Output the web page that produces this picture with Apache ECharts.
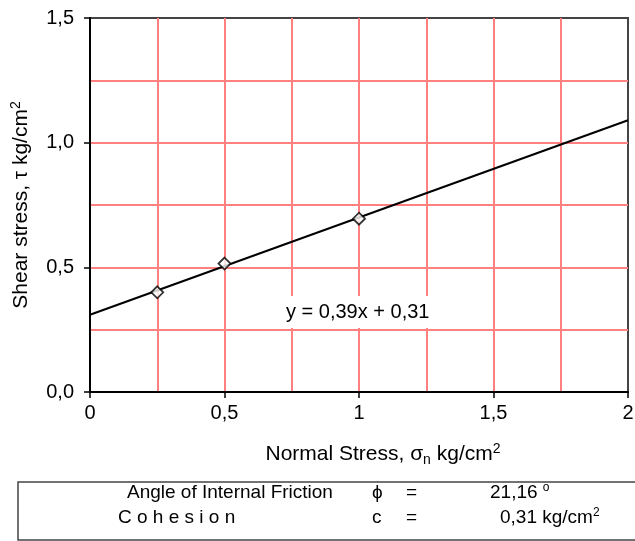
<!DOCTYPE html>
<html>
<head>
<meta charset="utf-8">
<script src="https://cdn.jsdelivr.net/npm/echarts@6/dist/echarts.min.js"></script>
<style>
  html, body { margin: 0; padding: 0; background: #fff; }
  #chart { width: 635px; height: 541px; }
</style>
</head>
<body>
<div id="chart"></div>
<script>
// measured points (normal stress, shear stress)
const stressX = [0.25, 0.5, 1.0];
const stressY = [0.40, 0.515, 0.695];
// linear trend line, end points
const trendX = [0, 2];
const trendY = [0.31, 1.09];
const equationText = 'y = 0,39x + 0,31';
// summary table rows
const tableLabels = ['Angle of Internal Friction', 'C o h e s i o n'];
const tableSymbols = ['\u03d5', 'c'];
const tableValues = ['{n|21,16 }{sup|o}', '{n|0,31 kg/cm}{sup|2}'];

const fontFam = '"Liberation Sans", Arial, sans-serif';
const gridPink = '#FF8080';
const fmt = v => String(v).replace('.', ',');

const chart = echarts.init(document.getElementById('chart'), null, { renderer: 'canvas' });

const rich = {
  n: { fontSize: 21, fontFamily: fontFam, color: '#000', lineHeight: 25 },
  sup: { fontSize: 14, fontFamily: fontFam, color: '#000', verticalAlign: 'top', lineHeight: 25 },
  sub: { fontSize: 14, fontFamily: fontFam, color: '#000', verticalAlign: 'bottom', lineHeight: 25 }
};
const tableRich = {
  n: { fontSize: 19, fontFamily: fontFam, color: '#000', lineHeight: 22 },
  sup: { fontSize: 12, fontFamily: fontFam, color: '#000', verticalAlign: 'top', lineHeight: 22 }
};

const rowY = [493, 518];
const tableGraphics = [];
tableLabels.forEach((lab, i) => {
  const txt = (x, s, r) => ({
    type: 'text', x: x, y: rowY[i],
    style: { text: s, font: '19px ' + fontFam, fill: '#000', verticalAlign: 'middle', align: 'left', rich: r }
  });
  tableGraphics.push(
    txt(i ? 118 : 127, lab),
    txt(372, tableSymbols[i]),
    txt(406, '='),
    txt(i ? 500 : 490, tableValues[i], tableRich)
  );
});

const pinkLines = { show: true, showMinLine: false, showMaxLine: false, lineStyle: { color: gridPink, width: 2 } };

chart.setOption({
  animation: false,
  grid: {
    left: 90, right: 7, top: 18, bottom: 149, containLabel: false, outerBoundsMode: 'none',
    show: true, borderColor: '#444', borderWidth: 2
  },
  xAxis: {
    type: 'value', min: 0, max: 2, interval: 0.5,
    axisLine: { show: true, onZero: false, lineStyle: { color: '#000', width: 2 } },
    axisTick: { show: true, length: 6, lineStyle: { color: '#000', width: 1.5 } },
    axisLabel: { margin: 11, fontSize: 20, fontFamily: fontFam, color: '#000', formatter: fmt },
    splitLine: pinkLines,
    minorTick: { show: false, splitNumber: 2 },
    minorSplitLine: { show: true, lineStyle: { color: gridPink, width: 2 } },
    name: '{n|Normal Stress, \u03c3}{sub|n}{n| kg/cm}{sup|2}',
    nameLocation: 'middle', nameGap: 50,
    nameTextStyle: { rich: rich, padding: [0, 0, 0, 48] }
  },
  yAxis: {
    type: 'value', min: 0, max: 1.5, interval: 0.5,
    axisLine: { show: true, onZero: false, lineStyle: { color: '#000', width: 2 } },
    axisTick: { show: true, length: 6, lineStyle: { color: '#000', width: 1.5 } },
    axisLabel: { margin: 16, fontSize: 20, fontFamily: fontFam, color: '#000', formatter: v => v.toFixed(1).replace('.', ',') },
    splitLine: pinkLines,
    minorTick: { show: false, splitNumber: 2 },
    minorSplitLine: { show: true, lineStyle: { color: gridPink, width: 2 } },
    name: '{n|Shear stress, \u03c4 kg/cm}{sup|2}',
    nameLocation: 'middle', nameGap: 56, nameRotate: 90,
    nameTextStyle: { rich: rich }
  },
  series: [
    {
      type: 'line', data: trendX.map((x, i) => [x, trendY[i]]),
      showSymbol: false, silent: true,
      lineStyle: { color: '#000', width: 2 }, z: 3
    },
    {
      type: 'scatter', data: stressX.map((x, i) => [x, stressY[i]]),
      symbol: 'diamond', symbolSize: 12,
      itemStyle: { color: '#fff', borderColor: '#000', borderWidth: 1.8 }, z: 4
    }
  ],
  graphic: [
    { type: 'text', x: 282, y: 312, z: 10, style: {
      text: equationText, font: '20px ' + fontFam, fill: '#000', verticalAlign: 'middle',
      backgroundColor: '#fff', padding: [9, 4, 3, 4]
    } },
    { type: 'rect', shape: { x: 18, y: 482, width: 640, height: 58 },
      style: { fill: 'none', stroke: '#444', lineWidth: 1.5 } }
  ].concat(tableGraphics)
});
</script>
</body>
</html>
